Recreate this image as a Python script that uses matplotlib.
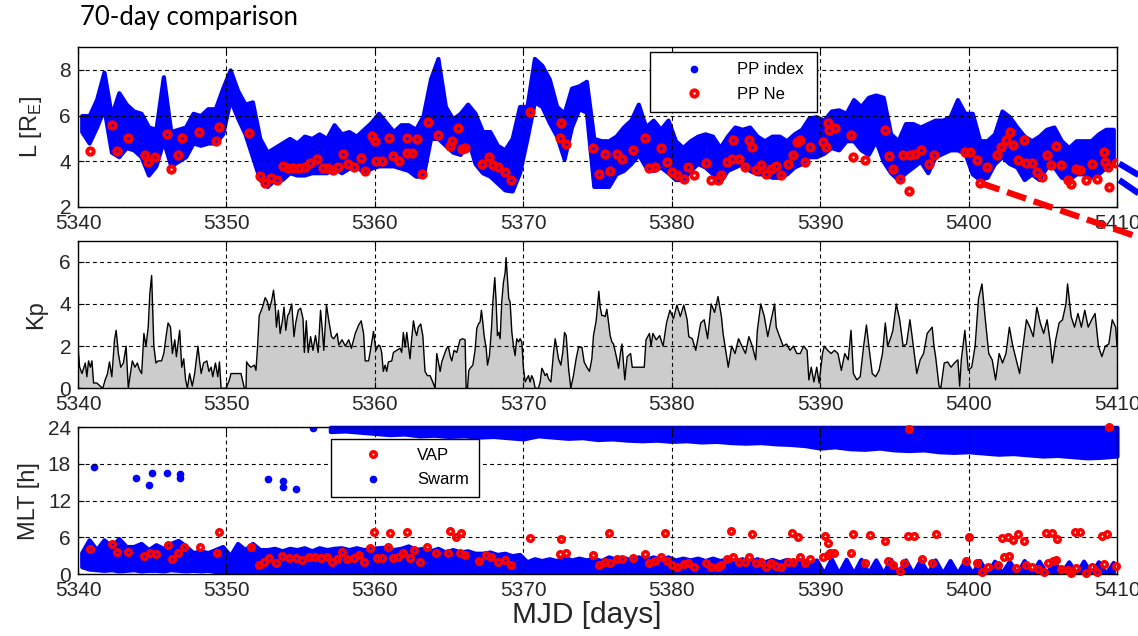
import numpy as np
import matplotlib
matplotlib.use("Agg")
import matplotlib.pyplot as plt
from matplotlib.lines import Line2D

plt.rcParams['font.family'] = ['Liberation Sans', 'DejaVu Sans']
plt.rcParams['mathtext.fontset'] = 'custom'
plt.rcParams['mathtext.rm'] = 'Liberation Sans'

# ---------------- data ----------------
MJD0 = 5340
XTICKS = [5340, 5350, 5360, 5370, 5380, 5390, 5400, 5410]

# PP index envelope (half-day bins starting at MJD0, step 0.5 day)
PP_STEP = 0.5
PP_LO = [5.3, 4.8, 5.5, 6.3, 4.4, 4.2, 4.6, 4.5, 4.2, 3.4,
         3.8, 4.9, 3.8, 4.0, 4.2, 4.8, 4.7, 4.8, 4.8, 5.2,
         6.7, 5.9, 5.2, 4.2, 3.2, 2.9, 3.2, 3.2, 3.5, 3.4,
         3.4, 3.5, 3.5, 3.5, 3.7, 3.5, 3.7, 3.8, 3.5, 3.7,
         3.8, 3.8, 3.8, 3.7, 3.6, 3.35, 3.35, 5.0, 5.0, 4.7,
         4.4, 4.3, 5.0, 3.9, 3.5, 3.35, 3.05, 2.75, 2.7, 3.5,
         5.0, 6.6, 6.4, 5.7, 5.1, 4.1, 5.5, 6.3, 6.15, 2.9,
         2.9, 2.9, 3.45, 3.6, 3.9, 4.3, 3.75, 3.6, 3.75, 3.5,
         3.2, 3.2, 3.6, 3.9, 3.75, 3.45, 3.1, 3.6, 3.75, 3.9,
         3.6, 3.45, 3.45, 3.3, 3.3, 3.45, 3.75, 3.9, 4.2, 4.2,
         4.35, 4.6, 4.5, 4.9, 4.9, 4.5, 4.3, 4.9, 4.0, 3.5,
         3.2, 3.5, 3.75, 4.0, 3.5, 4.2, 4.35, 4.5, 4.5, 4.35,
         3.45, 3.2, 3.3, 3.9, 4.2, 3.9, 3.75, 3.2, 3.45, 3.2,
         3.75, 3.75, 3.3, 3.2, 3.45, 3.45, 3.3, 3.45, 3.75, 3.9]
PP_HI = [6.0, 6.0, 6.7, 7.9, 6.0, 7.0, 6.5, 6.2, 6.1, 5.5,
         5.4, 7.7, 5.3, 5.4, 5.5, 6.1, 6.0, 6.3, 6.3, 7.2,
         8.0, 7.1, 6.5, 6.6, 5.0, 4.4, 4.6, 4.8, 5.0, 4.8,
         5.1, 5.0, 5.2, 5.0, 5.6, 5.2, 5.3, 5.1, 5.4, 5.7,
         6.1, 5.7, 5.3, 5.6, 5.6, 5.4, 6.0, 7.6, 8.5, 6.4,
         5.85, 6.1, 6.5, 6.1, 5.3, 5.3, 4.7, 4.5, 5.0, 6.4,
         6.4, 8.5, 8.2, 7.6, 6.4, 6.1, 7.2, 7.3, 7.5, 5.0,
         4.9, 4.9, 5.1, 5.5, 5.8, 6.5, 5.5, 5.8, 5.4, 5.8,
         4.9, 4.6, 4.9, 5.1, 5.2, 5.1, 4.6, 5.1, 5.5, 5.4,
         5.5, 5.1, 4.9, 5.1, 5.1, 4.9, 5.2, 5.4, 5.9, 5.95,
         5.8, 6.2, 6.25, 6.1, 6.7, 6.4, 6.8, 6.9, 6.8, 5.2,
         4.9, 5.65, 5.65, 5.5, 5.65, 5.8, 5.8, 5.95, 6.7, 6.1,
         6.1, 4.9, 4.9, 5.2, 6.2, 5.95, 5.5, 5.1, 4.9, 5.1,
         5.4, 5.5, 4.9, 4.6, 4.9, 4.9, 4.9, 5.2, 5.4, 5.4]

# PP from electron density (red)
PPNE_DAY = [5340.78, 5342.31, 5342.6, 5343.38, 5344.49, 5344.71, 5345.16, 5346.0, 5346.27, 5346.71,
            5347.04, 5348.16, 5349.31, 5349.49, 5351.53, 5352.25, 5352.58, 5353.03, 5353.4, 5353.8,
            5354.16, 5354.5, 5354.9, 5355.28, 5355.6, 5356.07, 5356.5, 5356.85, 5357.2, 5357.53,
            5357.87, 5358.2, 5358.58, 5359.06, 5359.33, 5359.78, 5360.0, 5360.1, 5360.45, 5360.95,
            5361.25, 5361.6, 5362.15, 5362.15, 5362.48, 5362.82, 5363.16, 5363.61, 5364.28, 5365.07,
            5365.18, 5365.63, 5365.86, 5366.08, 5367.25, 5367.7, 5367.99, 5368.33, 5368.78, 5369.16,
            5370.42, 5372.48, 5372.55, 5372.87, 5374.73, 5375.07, 5375.52, 5375.85, 5376.3, 5376.65,
            5377.39, 5378.2, 5378.5, 5378.85, 5379.31, 5379.65, 5380.0, 5380.35, 5380.8, 5381.09,
            5381.5, 5382.31, 5382.66, 5383.12, 5383.35, 5383.7, 5384.04, 5384.16, 5384.5, 5384.92,
            5385.2, 5385.43, 5385.66, 5386.0, 5386.35, 5386.7, 5387.04, 5387.39, 5387.85, 5388.2,
            5388.43, 5388.66, 5389.0, 5389.35, 5390.16, 5390.39, 5390.5, 5390.62, 5390.97, 5392.06,
            5392.24, 5393.05, 5394.36, 5394.62, 5394.9, 5395.36, 5395.59, 5396.0, 5396.05, 5396.4,
            5396.81, 5397.32, 5397.67, 5399.75, 5400.1, 5400.6, 5400.8, 5401.25, 5401.94, 5402.17,
            5402.52, 5402.82, 5402.98, 5403.33, 5403.72, 5403.9, 5404.25, 5404.6, 5404.94, 5405.29,
            5405.52, 5405.87, 5406.21, 5406.67, 5406.9, 5407.25, 5407.48, 5407.94, 5408.29, 5408.64,
            5409.1, 5409.21, 5409.4, 5409.45, 5409.9]
PPNE_L = [4.43, 5.6, 4.43, 5.0, 4.28, 3.99, 4.2, 5.2, 3.65, 4.28,
          5.04, 5.3, 4.9, 5.49, 5.24, 3.34, 3.05, 3.27, 3.2, 3.78,
          3.71, 3.71, 3.71, 3.74, 3.93, 4.1, 3.71, 3.71, 3.64, 3.76,
          4.33, 3.86, 3.74, 4.15, 3.57, 5.11, 4.89, 4.0, 4.0, 5.0,
          4.23, 4.0, 5.04, 4.38, 4.38, 4.97, 3.45, 5.7, 5.16, 4.67,
          4.89, 5.45, 4.52, 4.6, 3.9, 4.2, 3.83, 3.74, 3.52, 3.2,
          6.17, 5.04, 5.67, 4.74, 4.58, 3.45, 4.3, 3.56, 4.34, 4.09,
          4.48, 5.0, 3.71, 3.75, 4.56, 3.97, 3.53, 3.38, 3.24, 3.75,
          3.38, 3.94, 3.16, 3.16, 3.38, 3.97, 4.12, 4.92, 4.12, 3.75,
          4.92, 4.63, 3.6, 3.82, 3.46, 3.68, 3.8, 3.38, 3.9, 4.26,
          4.85, 4.92, 3.97, 4.63, 4.85, 4.63, 5.66, 5.36, 5.44, 5.14,
          4.19, 4.07, 5.39, 4.23, 3.65, 3.24, 4.29, 2.7, 4.26, 4.34,
          4.48, 3.9, 4.26, 4.41, 4.41, 4.07, 3.05, 3.75, 4.26, 4.63,
          4.92, 5.29, 4.7, 4.04, 4.92, 3.93, 3.93, 3.53, 3.31, 4.26,
          3.82, 4.66, 3.82, 3.16, 3.02, 3.68, 3.6, 3.16, 3.9, 3.24,
          4.41, 3.97, 3.75, 2.87, 3.93]

# trend lines drawn past the right edge of the L panel
TREND_RED_DAY = [5400.8, 5411.5]
TREND_RED_L = [3.05, 0.67]
TREND_BLUE1_DAY = [5410.15, 5411.45]
TREND_BLUE1_L = [3.9, 3.4]
TREND_BLUE2_DAY = [5410.15, 5411.45]
TREND_BLUE2_L = [3.18, 2.6]

# Kp (day offset from MJD0, value)
KP_OFF = [0.0, 0.11, 0.27, 0.49, 0.6, 0.71, 0.83, 0.94, 1.05, 1.27, 1.5, 1.67, 1.83, 1.99, 2.12, 2.28,
          2.46, 2.57, 2.72, 2.88, 3.06, 3.24, 3.39, 3.5, 3.66, 3.84, 4.0, 4.13, 4.29, 4.44, 4.58, 4.73,
          4.84, 4.96, 5.02, 5.11, 5.25, 5.4, 5.63, 5.78, 5.96, 6.07, 6.23, 6.36, 6.52, 6.63, 6.85, 6.99,
          7.12, 7.25, 7.37, 7.52, 7.7, 7.86, 8.08, 8.19, 8.3, 8.46, 8.68, 8.82, 8.97, 9.08, 9.26, 9.42,
          9.53, 9.64, 9.98, 10.2, 10.31, 10.98, 11.21, 11.32, 11.36, 11.5, 11.65, 11.88, 11.99, 12.1, 12.21, 12.43,
          12.61, 12.77, 12.88, 13.06, 13.17, 13.28, 13.37, 13.5, 13.62, 13.77, 13.88, 14.0, 14.13, 14.22, 14.4, 14.55,
          14.67, 14.84, 15.0, 15.16, 15.25, 15.38, 15.51, 15.67, 15.83, 16.0, 16.18, 16.34, 16.45, 16.56, 16.74, 16.9,
          17.08, 17.23, 17.46, 17.57, 17.79, 18.01, 18.24, 18.42, 18.68, 18.91, 19.08, 19.24, 19.35, 19.58, 19.75, 19.91,
          20.07, 20.25, 20.35, 20.46, 20.57, 20.69, 20.8, 20.91, 21.14, 21.25, 21.47, 21.7, 21.81, 21.92, 22.04, 22.15,
          22.26, 22.37, 22.48, 22.6, 22.71, 22.82, 22.93, 23.09, 23.23, 23.38, 23.54, 23.72, 23.9, 24.06, 24.17, 24.28,
          24.4, 24.51, 24.73, 24.84, 24.96, 25.07, 25.18, 25.34, 25.52, 25.74, 25.92, 26.08, 26.15, 26.24, 26.33, 26.42,
          26.6, 26.75, 26.87, 26.98, 27.09, 27.18, 27.27, 27.36, 27.5, 27.59, 27.72, 27.86, 27.95, 28.08, 28.17, 28.26,
          28.35, 28.44, 28.55, 28.66, 28.78, 28.84, 28.93, 29.02, 29.11, 29.23, 29.34, 29.45, 29.56, 29.68, 29.79, 29.9,
          30.01, 30.13, 30.24, 30.35, 30.46, 30.57, 30.69, 30.8, 31.02, 31.14, 31.25, 31.36, 31.47, 31.59, 31.7, 31.86,
          32.04, 32.15, 32.26, 32.37, 32.53, 32.66, 32.78, 32.89, 33.05, 33.2, 33.38, 33.56, 33.72, 33.95, 34.1, 34.28,
          34.46, 34.62, 34.73, 34.91, 35.0, 35.09, 35.18, 35.29, 35.41, 35.52, 35.63, 35.74, 35.85, 35.97, 36.08, 36.3,
          36.42, 36.54, 36.65, 36.84, 37.0, 37.23, 37.34, 38.15, 38.27, 38.5, 38.61, 38.73, 38.96, 39.19, 39.42, 39.65,
          39.88, 40.12, 40.35, 40.58, 40.81, 41.04, 41.15, 41.39, 41.62, 41.96, 42.19, 42.42, 42.66, 42.89, 43.12, 43.35,
          43.46, 43.81, 44.04, 44.27, 44.5, 44.73, 44.97, 45.2, 45.43, 45.66, 45.77, 46.0, 46.24, 46.47, 46.7, 46.93,
          47.04, 47.27, 47.51, 47.74, 47.97, 48.2, 48.43, 48.66, 48.89, 49.12, 49.24, 49.4, 49.58, 49.77, 49.93, 50.16,
          50.28, 50.51, 50.74, 50.97, 51.2, 51.43, 51.66, 51.89, 52.08, 52.24, 52.47, 52.7, 52.93, 53.12, 53.28, 53.51,
          53.74, 53.97, 54.2, 54.39, 54.55, 54.78, 54.9, 55.13, 55.36, 55.59, 55.82, 56.05, 56.28, 56.51, 56.74, 56.97,
          57.21, 57.55, 57.67, 57.78, 58.01, 58.13, 58.36, 58.59, 58.82, 59.05, 59.28, 59.4, 59.51, 59.75, 59.98, 60.21,
          60.44, 60.67, 60.9, 61.13, 61.36, 61.59, 61.82, 62.06, 62.29, 62.52, 62.75, 62.98, 63.21, 63.44, 63.67, 63.9,
          64.13, 64.36, 64.6, 64.83, 65.06, 65.29, 65.52, 65.64, 65.87, 66.1, 66.33, 66.56, 66.67, 66.91, 67.14, 67.37,
          67.6, 67.83, 68.06, 68.29, 68.52, 68.75, 68.98, 69.21, 69.45, 69.68, 69.91, 70.0]
KP_VAL = [1.97, 1.0, 0.7, 1.2, 0.55, 1.3, 1.0, 1.3, 0.25, 0.25, 0.1, 0.0, 0.4, 0.7, 1.25, 0.55,
          2.3, 2.75, 1.65, 1.0, 1.2, 2.0, 0.0, 0.55, 1.3, 1.0, 1.2, 0.9, 0.7, 2.6, 2.0, 2.9,
          4.5, 5.35, 4.0, 2.0, 1.2, 1.3, 1.3, 1.65, 2.6, 3.1, 2.9, 1.65, 2.3, 1.5, 2.75, 1.0,
          1.4, 0.4, 0.0, 0.7, 0.1, 0.7, 2.0, 1.3, 0.7, 1.2, 1.3, 0.8, 1.0, 0.55, 1.2, 0.55,
          1.25, 0.0, 0.0, 0.4, 0.7, 0.7, 0.0, 0.0, 1.25, 1.1, 1.0, 1.1, 0.85, 2.0, 3.45, 3.85,
          4.3, 4.1, 3.7, 4.2, 4.65, 4.0, 2.9, 3.7, 2.6, 3.2, 3.85, 2.75, 3.45, 3.55, 4.0, 2.45,
          3.1, 3.7, 3.8, 3.3, 1.7, 3.2, 1.7, 2.45, 1.8, 2.5, 1.7, 3.7, 2.85, 1.8, 3.95, 3.2,
          2.45, 2.35, 2.6, 2.05, 2.3, 2.0, 2.3, 1.9, 2.6, 3.0, 3.2, 2.6, 1.3, 1.3, 2.0, 2.7,
          1.8, 2.05, 2.0, 1.7, 0.8, 1.1, 0.8, 1.25, 1.3, 1.7, 1.8, 1.9, 1.7, 2.65, 1.95, 2.65,
          2.0, 1.4, 2.35, 3.2, 2.75, 2.5, 2.9, 3.05, 2.5, 0.8, 0.6, 0.6, 0.3, 0.0, 1.65, 1.25,
          0.8, 1.25, 1.7, 1.9, 1.95, 1.55, 1.3, 1.8, 1.7, 2.3, 2.35, 2.3, 0.0, 0.0, 0.85, 0.95,
          1.1, 1.8, 2.85, 3.05, 3.15, 3.7, 3.15, 2.5, 1.9, 1.1, 1.55, 2.85, 4.1, 5.25, 4.1, 2.5,
          2.65, 2.35, 4.1, 5.0, 5.5, 6.2, 5.25, 4.25, 4.1, 2.65, 2.0, 1.55, 2.35, 2.2, 2.35, 2.2,
          0.95, 0.3, 0.45, 0.6, 0.3, 0.6, 0.4, 0.0, 0.0, 0.3, 0.95, 0.8, 0.6, 0.7, 0.45, 0.3,
          1.7, 2.35, 1.9, 1.4, 1.1, 1.7, 2.65, 2.5, 0.95, 0.0, 0.6, 1.4, 1.95, 1.95, 1.25, 1.0,
          0.8, 1.4, 2.5, 3.2, 3.9, 4.6, 3.85, 3.45, 3.45, 3.4, 3.75, 3.15, 2.5, 2.2, 2.1, 1.4,
          0.95, 1.65, 2.1, 0.4, 1.5, 1.65, 1.0, 1.0, 2.3, 2.6, 2.0, 2.6, 2.3, 2.5, 2.0, 3.1,
          3.7, 3.3, 3.95, 3.4, 3.95, 3.25, 2.45, 2.35, 1.8, 3.1, 3.25, 2.35, 4.0, 3.6, 4.35, 3.4,
          2.6, 1.0, 2.0, 1.65, 2.35, 2.0, 1.65, 2.45, 2.0, 1.35, 2.75, 4.0, 3.4, 2.45, 3.25, 4.0,
          2.9, 2.45, 2.0, 2.1, 1.8, 2.0, 1.65, 1.65, 2.0, 1.8, 0.4, 1.0, 0.3, 1.0, 0.25, 1.65,
          2.0, 1.8, 1.65, 1.8, 1.65, 0.85, 1.65, 1.35, 2.75, 0.7, 0.4, 0.55, 2.0, 3.0, 2.0, 0.7,
          0.55, 0.85, 1.65, 3.1, 2.0, 2.45, 2.75, 4.0, 3.25, 2.0, 2.1, 3.25, 2.0, 0.7, 1.35, 1.65,
          2.6, 2.9, 2.0, 1.5, 0.1, 0.0, 1.2, 1.25, 1.0, 1.2, 1.35, 0.1, 1.35, 2.75, 0.85, 1.0,
          2.0, 4.25, 4.95, 3.25, 1.65, 1.35, 0.4, 1.65, 1.2, 1.65, 2.9, 2.0, 1.35, 0.7, 2.0, 3.25,
          2.9, 2.45, 3.85, 3.1, 2.6, 3.25, 2.1, 1.2, 2.3, 3.1, 3.25, 4.0, 4.95, 3.4, 2.9, 3.55,
          2.9, 3.7, 2.9, 3.25, 3.55, 2.0, 1.5, 2.0, 2.1, 3.25, 2.9, 2.0]

# Swarm MLT: low band (half-day bins from MJD0), upper band (daily from 5357), isolated points
SWL_STEP = 0.5
SWL_HI = [3.5, 5.6, 4.0, 5.6, 4.5, 5.8, 4.5, 4.5, 5.0, 4.0,
          4.8, 4.2, 5.0, 5.5, 4.6, 3.5, 3.8, 3.5, 4.0, 4.5,
          3.0, 5.0, 4.0, 5.0, 4.0, 4.0, 4.2, 3.8, 4.2, 4.0,
          4.3, 3.8, 4.3, 4.0, 4.2, 4.3, 4.0, 4.3, 4.0, 4.2,
          4.3, 4.4, 4.0, 4.2, 4.6, 4.0, 4.2, 3.8, 4.2, 3.6,
          4.0, 3.6, 3.8, 3.4, 3.4, 3.6, 3.2, 3.4, 3.0, 3.2,
          2.0, 2.5, 2.2, 2.5, 2.2, 2.8, 2.3, 2.6, 2.3, 2.6,
          2.2, 2.8, 2.4, 2.7, 2.3, 2.8, 2.4, 2.8, 2.4, 2.8,
          2.3, 2.6, 2.3, 2.6, 2.2, 2.6, 2.2, 2.5, 2.2, 2.5,
          2.0, 2.5, 2.0, 2.4, 2.0, 2.4, 2.0, 2.4, 1.8, 2.3,
          0.1, 2.5, 0.1, 2.4, 0.1, 2.4, 0.2, 2.3, 0.1, 2.4,
          0.1, 2.3, 0.1, 2.3, 0.2, 2.3, 0.1, 2.2, 0.1, 2.2,
          0.1, 2.2, 0.1, 2.1, 0.2, 2.1, 0.1, 2.2, 0.1, 2.1,
          0.1, 2.1, 0.2, 2.0, 0.1, 2.1, 0.1, 2.0, 0.1, 1.9]
SWL_LO_EARLY = [1.2, 0.8, 0.7, 0.6, 0.7, 0.5, 0.6, 0.7, 0.5, 0.6,
                0.6, 0.5, 0.7, 0.6, 0.5, 0.6, 0.5, 0.6, 0.4, 0.3]
SWT_START = 5357
SWT_LO = [23.3, 23.4, 23.2, 23.0, 22.8, 22.9, 22.6, 22.7, 22.5, 22.6,
          22.4, 22.5, 22.3, 22.1, 22.6, 22.4, 22.2, 22.3, 22.0, 22.1,
          21.9, 21.8, 21.9, 21.7, 21.8, 21.6, 21.7, 21.5, 21.4, 21.5,
          21.3, 21.2, 21.0, 20.6, 20.8, 20.5, 20.4, 20.6, 20.3, 20.2,
          20.3, 20.0, 19.9, 20.0, 19.8, 19.6, 19.7, 19.5, 19.3, 19.4,
          19.2, 19.0, 19.1, 19.3]
SWT_TOP = 24.0
SWP_DAY = [5341.1, 5343.9, 5344.8, 5345.0, 5346.0, 5346.9, 5346.9, 5352.83, 5353.8, 5353.8, 5354.7, 5355.85]
SWP_MLT = [17.46, 15.65, 14.57, 16.58, 16.58, 16.37, 15.65, 15.5, 15.2, 14.3, 13.9, 23.84]

# VAP MLT (red)
VAP_DAY = [5340.78, 5342.32, 5342.6, 5343.39, 5344.44, 5344.84, 5345.25, 5346.03, 5346.3, 5346.74,
           5347.12, 5348.19, 5349.35, 5349.53, 5351.65, 5352.21, 5352.54, 5352.88, 5353.33, 5353.77,
           5354.22, 5354.66, 5355.11, 5355.56, 5356.0, 5356.34, 5356.79, 5357.12, 5357.46, 5357.79,
           5358.13, 5358.57, 5358.9, 5359.29, 5359.69, 5359.91, 5360.13, 5360.47, 5360.87, 5361.03,
           5361.25, 5361.58, 5361.92, 5362.14, 5362.37, 5362.66, 5363.04, 5363.48, 5364.15, 5364.93,
           5365.09, 5365.49, 5365.71, 5365.83, 5366.05, 5367.05, 5367.5, 5367.83, 5368.33, 5368.78,
           5369.16, 5370.42, 5372.55, 5372.48, 5372.87, 5374.73, 5375.07, 5375.5, 5375.77, 5375.84,
           5376.3, 5376.65, 5377.39, 5378.2, 5378.5, 5378.85, 5379.31, 5379.54, 5379.65, 5380.0,
           5380.35, 5380.8, 5381.09, 5381.5, 5382.31, 5382.66, 5383.12, 5383.35, 5383.7, 5384.0,
           5384.16, 5384.5, 5384.92, 5385.24, 5385.43, 5385.66, 5386.0, 5386.35, 5386.7, 5387.04,
           5387.39, 5387.85, 5388.08, 5388.2, 5388.48, 5388.61, 5389.0, 5389.35, 5390.16, 5390.32,
           5390.5, 5390.55, 5390.69, 5390.92, 5392.08, 5392.24, 5393.05, 5393.33, 5394.39, 5394.55,
           5394.9, 5395.36, 5395.64, 5395.94, 5396.0, 5396.33, 5396.86, 5397.55, 5397.78, 5399.86,
           5400.02, 5400.6, 5400.9, 5401.32, 5402.01, 5402.24, 5402.4, 5402.63, 5402.75, 5402.98,
           5403.21, 5403.33, 5403.72, 5403.9, 5404.25, 5404.71, 5405.06, 5405.22, 5405.33, 5405.64,
           5405.7, 5405.87, 5405.94, 5406.21, 5406.67, 5406.9, 5407.14, 5407.25, 5407.48, 5407.88,
           5408.29, 5408.64, 5408.98, 5409.1, 5409.33, 5409.45, 5409.9]
VAP_MLT = [4.04, 4.9, 3.66, 3.66, 2.95, 3.38, 3.27, 4.75, 2.4, 3.49,
           4.36, 4.36, 3.49, 6.93, 4.36, 1.47, 2.02, 2.56, 1.75, 3.0,
           2.56, 2.56, 2.29, 2.84, 2.84, 2.56, 2.84, 2.02, 2.45, 3.55,
           2.45, 2.56, 3.11, 1.91, 4.2, 6.93, 2.56, 2.56, 4.47, 6.76,
           2.56, 2.84, 3.49, 6.82, 2.56, 3.93, 2.02, 4.47, 3.38, 3.38,
           7.09, 6.11, 3.38, 6.76, 3.11, 2.18, 3.11, 2.84, 2.0, 2.3,
           1.5, 5.9, 5.75, 3.3, 3.5, 3.1, 1.5, 2.0, 6.76, 1.85,
           2.4, 2.4, 2.56, 3.27, 1.85, 2.18, 2.84, 6.76, 2.18, 1.47,
           1.2, 1.64, 1.85, 1.2, 1.75, 1.2, 1.2, 1.47, 2.4, 7.09,
           2.84, 2.02, 2.02, 2.84, 6.55, 1.75, 2.02, 1.1, 1.75, 1.31,
           1.2, 2.02, 6.76, 2.02, 6.11, 2.84, 1.75, 2.4, 2.84, 6.22,
           3.11, 5.02, 3.49, 3.49, 3.49, 6.55, 1.85, 6.38, 5.46, 2.18,
           1.47, 0.55, 1.85, 6.27, 23.73, 6.27, 2.45, 1.85, 6.55, 2.18,
           6.11, 1.85, 0.27, 1.1, 1.47, 5.84, 2.84, 6.11, 2.95, 5.56,
           0.93, 6.55, 5.46, 1.47, 1.1, 0.76, 0.27, 6.66, 1.75, 6.66,
           2.18, 2.29, 5.67, 0.76, 0.65, 0.1, 6.93, 0.93, 6.87, 0.1,
           1.2, 0.38, 6.22, 1.64, 6.49, 24.0, 1.31]

BLUE = '#0000ff'
RED = '#ff0000'
TICKCOL = '#262626'

# ---------------- figure ----------------
W, H = 1138, 636
fig = plt.figure(figsize=(W / 100, H / 100), dpi=100)
left, width = 78 / W, 1039 / W
axL = fig.add_axes([left, 1 - 207 / H, width, 160 / H])
axK = fig.add_axes([left, 1 - 388.3 / H, width, 147.6 / H])
axM = fig.add_axes([left, 1 - 574 / H, width, 146.7 / H])


def style(ax, yticks):
    ax.set_xlim(5340, 5410)
    ax.set_xticks(XTICKS)
    ax.set_yticks(yticks)
    ax.grid(True, color='black', linestyle=(0, (3.5, 3)), linewidth=0.8)
    ax.set_axisbelow(False)
    ax.tick_params(direction='in', length=4, width=0.8, top=True, right=True,
                   labelsize=15, labelcolor=TICKCOL, pad=5)
    for s in ax.spines.values():
        s.set_linewidth(1.0)
        s.set_color('black')


# --- L panel ---
pp_t = MJD0 + PP_STEP * (np.arange(len(PP_LO)) + 0.5)
axL.fill_between(pp_t, PP_LO, PP_HI, color=BLUE, edgecolor=BLUE, linewidth=3.0,
                 joinstyle='round', zorder=2)
axL.plot(PPNE_DAY, PPNE_L, linestyle='none', marker='o', ms=4.6, mfc='none', mec=RED,
         mew=2.8, zorder=3)
axL.plot(TREND_RED_DAY, TREND_RED_L, color=RED, lw=4.5, linestyle=(0, (3.2, 1.3)),
         clip_on=False, zorder=6, solid_capstyle='butt')
axL.plot(TREND_BLUE1_DAY, TREND_BLUE1_L, color=BLUE, lw=4.5, clip_on=False, zorder=6,
         solid_capstyle='butt')
axL.plot(TREND_BLUE2_DAY, TREND_BLUE2_L, color=BLUE, lw=4.5, clip_on=False, zorder=6,
         solid_capstyle='butt')
axL.set_ylim(2, 9)
style(axL, [2, 4, 6, 8])
axL.set_ylabel(r'L [R$_{\mathrm{E}}$]', fontsize=17, color=TICKCOL)
axL.yaxis.set_label_coords(-0.033, 0.5)
hL = [Line2D([], [], ls='none', marker='o', ms=4.5, color=BLUE),
      Line2D([], [], ls='none', marker='o', ms=4.6, mfc='none', mec=RED, mew=2.8)]
legL = axL.legend(hL, ['PP index', 'PP Ne'], loc='upper left',
                  bbox_to_anchor=(0.551, 0.606, 0.16, 0.362), mode='expand',
                  borderaxespad=0, fancybox=False, edgecolor='black', framealpha=1,
                  fontsize=12, borderpad=0.62, labelspacing=0.55, handlelength=4,
                  handletextpad=0.6)
legL.get_frame().set_linewidth(1.0)
legL.set_zorder(10)

# --- Kp panel ---
kp_t = MJD0 + np.array(KP_OFF)
axK.fill_between(kp_t, 0, KP_VAL, color='#cccccc', linewidth=0, zorder=1)
axK.plot(kp_t, KP_VAL, color='black', lw=1.0, zorder=3)
axK.set_ylim(0, 7)
style(axK, [0, 2, 4, 6])
axK.set_ylabel('Kp', fontsize=17, color=TICKCOL)
axK.yaxis.set_label_coords(-0.030, 0.5)

# --- MLT panel ---
swl_t = MJD0 + SWL_STEP * (np.arange(len(SWL_HI)) + 0.5)
swl_lo = np.zeros(len(SWL_HI))
swl_lo[:len(SWL_LO_EARLY)] = SWL_LO_EARLY
axM.fill_between(swl_t, swl_lo, SWL_HI, color=BLUE, edgecolor=BLUE, linewidth=3.0,
                 joinstyle='round', zorder=2)
swt_t = SWT_START + np.arange(len(SWT_LO))
axM.fill_between(swt_t, SWT_LO, SWT_TOP, color=BLUE, edgecolor=BLUE, linewidth=3.0,
                 joinstyle='round', zorder=2, clip_on=False)
axM.plot(SWP_DAY, SWP_MLT, linestyle='none', marker='o', ms=4.5, color=BLUE, zorder=2)
axM.plot(VAP_DAY, VAP_MLT, linestyle='none', marker='o', ms=4.0, mfc='none', mec=RED,
         mew=2.5, zorder=3, clip_on=False)
axM.set_ylim(0, 24)
style(axM, [0, 6, 12, 18, 24])
axM.set_ylabel('MLT [h]', fontsize=17, color=TICKCOL)
axM.yaxis.set_label_coords(-0.037, 0.5)
axM.set_xlabel('MJD [days]', fontsize=21.5, color=TICKCOL)
axM.xaxis.set_label_coords(0.49, -0.185)
axM.xaxis.label.set_va('top')
hM = [Line2D([], [], ls='none', marker='o', ms=4.0, mfc='none', mec=RED, mew=2.5),
      Line2D([], [], ls='none', marker='o', ms=4.5, color=BLUE)]
legM = axM.legend(hM, ['VAP', 'Swarm'], loc='upper left',
                  bbox_to_anchor=(0.2435, 0.525, 0.1425, 0.395), mode='expand',
                  borderaxespad=0, fancybox=False, edgecolor='black', framealpha=1,
                  fontsize=12, borderpad=0.55, labelspacing=0.55, handlelength=4,
                  handletextpad=0.6)
legM.get_frame().set_linewidth(1.0)
legM.set_zorder(10)

fig.text(80 / W, 1 - 18 / H, '70-day comparison', fontsize=18.5, family=['Lato', 'DejaVu Sans'],
         va='center', ha='left', color='black')

fig.savefig('out.png', dpi=100)
